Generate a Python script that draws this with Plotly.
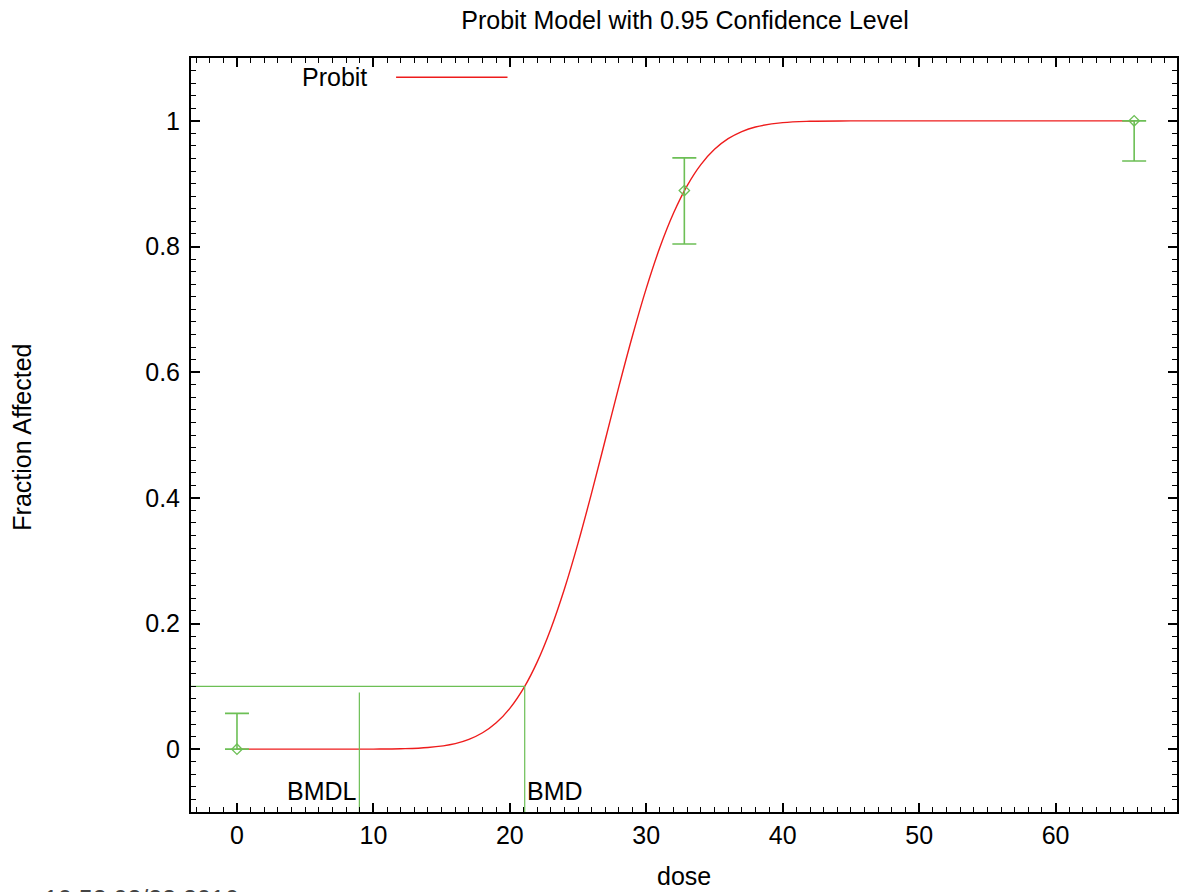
import plotly.graph_objects as go

# ---- data ----
obs_dose = [0.0, 32.79, 65.76]
obs_frac = [0.0, 0.889, 1.0]
obs_lower = [0.0, 0.804, 0.936]
obs_upper = [0.057, 0.941, 1.0]

curve_dose = [0, 5, 10, 12, 14, 16, 17, 18, 19, 20, 21.09, 22, 23, 24, 25, 26, 27, 28, 29, 30,
              31, 32, 33, 34, 35, 36, 37, 38, 40, 42, 45, 50, 55, 60, 65.76]
curve_frac = [0.0, 0.0, 0.00013, 0.00063, 0.0026, 0.0089, 0.0156, 0.0261, 0.042, 0.065, 0.100,
              0.1385, 0.1913, 0.2549, 0.3279, 0.4083, 0.4928, 0.5777, 0.6588, 0.7334,
              0.7987, 0.8532, 0.8969, 0.9303, 0.9547, 0.9716, 0.983, 0.9902, 0.9971, 0.9993,
              0.9999, 1.0, 1.0, 1.0, 1.0]

bmd = 21.09
bmdl = 8.97
bmr = 0.1
bmdl_top = 0.09

x_range = [-3.37, 68.9]
y_range = [-0.1, 1.1]
x_ticks = [0, 10, 20, 30, 40, 50, 60]
y_ticks = [0, 0.2, 0.4, 0.6, 0.8, 1]
y_tick_labels = ["0", "0.2", "0.4", "0.6", "0.8", "1"]

RED = "#ee1c1c"
GREEN = "#6cbf55"
FONT = "Liberation Sans, Arial, sans-serif"
FS = 25

fig = go.Figure()

fig.add_trace(go.Scatter(x=curve_dose, y=curve_frac, mode="lines", line_shape="spline",
                         line=dict(color=RED, width=1.4), showlegend=False, hoverinfo="skip"))

fig.add_trace(go.Scatter(
    x=obs_dose, y=obs_frac, mode="markers",
    marker=dict(symbol="diamond-open", size=8, color=GREEN, line=dict(width=1.3, color=GREEN)),
    error_y=dict(type="data", symmetric=False,
                 array=[u - v for u, v in zip(obs_upper, obs_frac)],
                 arrayminus=[v - l for v, l in zip(obs_frac, obs_lower)],
                 color=GREEN, thickness=1.6, width=12),
    showlegend=False))

fig.add_trace(go.Scatter(x=[x_range[0], bmd, bmd], y=[bmr, bmr, y_range[0]], mode="lines",
                         line=dict(color=GREEN, width=1.2), showlegend=False))
fig.add_trace(go.Scatter(x=[bmdl, bmdl], y=[y_range[0], bmdl_top], mode="lines",
                         line=dict(color=GREEN, width=1.2), showlegend=False))

axis_common = dict(showgrid=False, zeroline=False, showline=True, linecolor="black", linewidth=2,
                   mirror="allticks", ticks="inside", ticklen=9, tickwidth=1.5, tickcolor="black",
                   tickfont=dict(family=FONT, size=FS, color="black"))

fig.update_xaxes(range=x_range, tickvals=x_ticks, ticktext=[str(t) for t in x_ticks],
                 minor=dict(dtick=1, ticks="inside", ticklen=5, tickcolor="black", tickwidth=1),
                 ticklabelstandoff=0, **axis_common)
fig.update_yaxes(range=y_range, tickvals=y_ticks, ticktext=y_tick_labels,
                 minor=dict(dtick=0.02, ticks="inside", ticklen=5, tickcolor="black", tickwidth=1),
                 ticklabelstandoff=4, **axis_common)

annotations = [
    dict(x=bmdl, y=-0.067, xref="x", yref="y", text="BMDL", showarrow=False, xanchor="right",
         yanchor="middle", font=dict(family=FONT, size=FS, color="black")),
    dict(x=bmd, y=-0.067, xref="x", yref="y", text="BMD", showarrow=False, xanchor="left",
         yanchor="middle", font=dict(family=FONT, size=FS, color="black")),
    dict(x=0.181, y=0.975, xref="paper", yref="paper", text="Probit", showarrow=False, xanchor="right",
         yanchor="middle", font=dict(family=FONT, size=FS, color="black")),
    dict(x=0.5, y=-0.0849, xref="paper", yref="paper", text="dose", showarrow=False, xanchor="center",
         yanchor="middle", font=dict(family=FONT, size=FS, color="black")),
    dict(x=-0.171, y=0.497, xref="paper", yref="paper", text="Fraction Affected", showarrow=False,
         textangle=-90, xanchor="center", yanchor="middle", font=dict(family=FONT, size=FS, color="black")),
    dict(x=-0.151, y=-0.1155, xref="paper", yref="paper", text="10:52 02/23 2016", showarrow=False,
         xanchor="left", yanchor="middle", font=dict(family=FONT, size=FS, color="#444444")),
]

fig.update_layout(
    width=1179, height=892,
    margin=dict(l=191, r=0, t=58, b=80),
    paper_bgcolor="white", plot_bgcolor="white",
    title=dict(text="Probit Model with 0.95 Confidence Level", x=0.581, xanchor="center",
               y=0.9776, yanchor="middle", font=dict(family=FONT, size=FS, color="black")),
    annotations=annotations,
    shapes=[dict(type="line", xref="paper", yref="paper", x0=0.208, x1=0.321, y0=0.9745, y1=0.9745,
                 line=dict(color=RED, width=1.3))],
)

fig.write_html("out.html")
